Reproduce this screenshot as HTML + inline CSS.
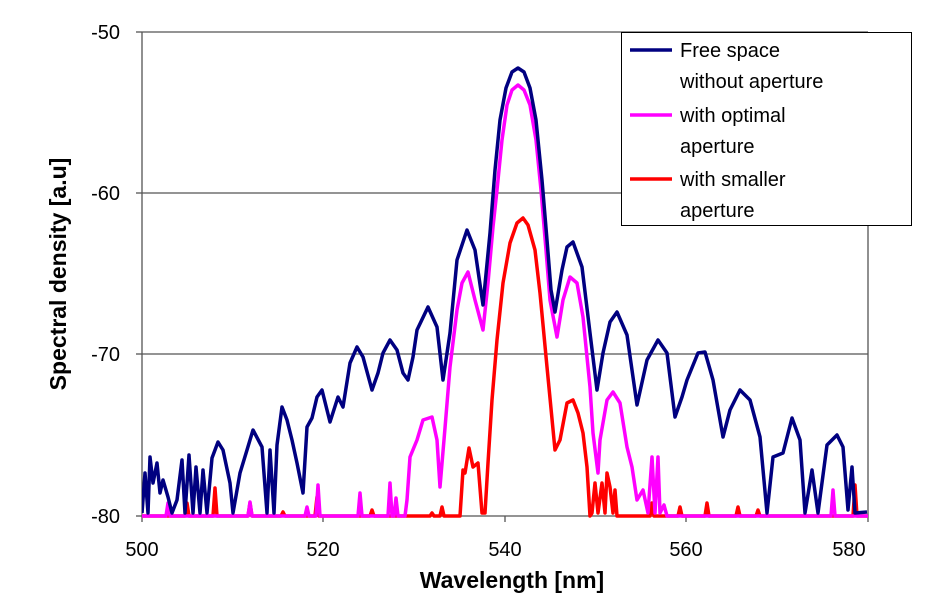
<!DOCTYPE html>
<html><head><meta charset="utf-8"><style>
html,body{margin:0;padding:0;background:#fff;}
svg{display:block;font-family:"Liberation Sans",Arial,sans-serif;}
</style></head><body>
<svg width="948" height="603" viewBox="0 0 948 603" xmlns="http://www.w3.org/2000/svg">
<rect width="948" height="603" fill="#fff"/>
<defs><clipPath id="c"><rect x="142" y="30" width="726" height="488"/></clipPath></defs>
<g stroke="#555" stroke-width="1.3">
<line x1="142" y1="32" x2="868" y2="32"/>
<line x1="142" y1="193" x2="868" y2="193"/>
<line x1="142" y1="354" x2="868" y2="354"/>
<line x1="142" y1="516" x2="868" y2="516"/>
<line x1="142" y1="32" x2="142" y2="516"/>
<line x1="868" y1="32" x2="868" y2="516"/>
<line x1="136" y1="32" x2="142" y2="32"/><line x1="136" y1="193" x2="142" y2="193"/>
<line x1="136" y1="354" x2="142" y2="354"/><line x1="136" y1="516" x2="142" y2="516"/>
<line x1="142" y1="516" x2="142" y2="522"/><line x1="323" y1="516" x2="323" y2="522"/>
<line x1="505" y1="516" x2="505" y2="522"/><line x1="686" y1="516" x2="686" y2="522"/>
<line x1="868" y1="516" x2="868" y2="522"/>
</g>
<g clip-path="url(#c)" fill="none" stroke-width="3.5" stroke-linejoin="round">
<polyline stroke="#ff0000" points="142,516 185,516 187,503 189,516 213,516 215,488 217,516 248,516 250,503 252,516 281,516 283,512 285,516 315,516 317,497 319,516 370,516 372,510 374,516 430,516 432,513 434,516 440,516 442,507 444,516 460,516 463,470 465,473 469,448 473,467 478,463 482,513 485,513 488,463 492,400 497,340 503,283 510,243 517,223 523,218 528,225 535,250 540,293 547,367 555,450 560,440 567,403 573,400 578,413 583,433 587,467 590,516 592,513 595,483 598,513 602,483 605,513 607,473 610,487 613,513 615,490 617,516 650,516 652,503 654,516 678,516 680,507 682,516 705,516 707,503 709,516 736,516 738,507 740,516 756,516 758,510 760,516 853,516 855,485 857,516 868,516"/>
<polyline stroke="#ff00ff" points="142,516 166,516 168,503 170,516 248,516 250,502 252,516 305,516 307,507 309,516 316,516 318,485 320,516 358,516 360,493 362,516 388,516 390,483 392,516 394,516 396,498 398,516 405,516 407,500 410,457 417,440 423,420 432,417 437,440 440,487 445,428 450,367 457,310 462,283 468,272 475,300 483,330 488,283 493,227 497,190 502,140 507,105 512,90 518,85 524,90 530,105 536,140 541,190 546,250 550,300 557,337 563,300 570,277 577,283 583,317 590,387 593,433 598,473 600,440 607,400 613,392 620,403 627,447 632,467 637,500 643,490 648,513 652,457 655,513 658,457 660,513 664,505 667,516 831,516 833,490 835,516 868,516"/>
<polyline stroke="#000080" points="142,513 145,473 148,513 150,457 153,483 157,463 160,493 163,480 168,497 172,513 177,500 182,460 185,513 189,455 193,513 196,467 200,513 203,470 207,513 212,458 218,442 223,450 230,483 233,513 240,473 247,450 253,430 262,447 267,513 270,450 274,513 277,445 282,407 287,420 292,440 297,463 303,493 307,427 312,418 317,397 322,390 330,422 338,397 343,407 350,363 357,347 363,357 372,390 378,373 383,353 390,340 397,350 403,373 408,380 413,357 417,330 428,307 437,327 443,380 450,333 457,260 467,230 475,250 483,305 490,233 495,170 500,120 506,88 512,72 518,68 524,72 530,88 536,120 542,180 547,240 551,290 555,312 562,270 567,247 573,242 582,267 590,333 597,390 603,353 610,322 617,312 627,335 637,405 647,360 658,340 667,353 675,417 682,397 687,380 698,353 705,352 713,380 723,437 730,410 740,390 750,400 760,437 767,513 773,457 783,453 792,418 800,440 805,513 812,470 818,513 827,445 837,435 843,447 848,510 852,467 855,513 867,512"/>
</g>
<g font-size="20" fill="#000" text-anchor="end">
<text x="120" y="39">-50</text><text x="120" y="200">-60</text>
<text x="120" y="361">-70</text><text x="120" y="523">-80</text>
</g>
<g font-size="20" fill="#000" text-anchor="middle">
<text x="142" y="556">500</text><text x="323" y="556">520</text>
<text x="505" y="556">540</text><text x="686" y="556">560</text><text x="849" y="556">580</text>
</g>
<text x="512" y="588" font-size="23" font-weight="bold" text-anchor="middle">Wavelength [nm]</text>
<text transform="translate(66,274) rotate(-90)" font-size="23" font-weight="bold" text-anchor="middle">Spectral density [a.u]</text>
<rect x="621.5" y="32.5" width="290" height="193" fill="#fff" stroke="#000" stroke-width="1"/>
<g stroke-width="3.5">
<line x1="630" y1="50" x2="672" y2="50" stroke="#000080"/>
<line x1="630" y1="115" x2="672" y2="115" stroke="#ff00ff"/>
<line x1="630" y1="179" x2="672" y2="179" stroke="#ff0000"/>
</g>
<g font-size="20" fill="#000">
<text x="680" y="57">Free space</text><text x="680" y="88">without aperture</text>
<text x="680" y="122">with optimal</text><text x="680" y="153">aperture</text>
<text x="680" y="186">with smaller</text><text x="680" y="217">aperture</text>
</g>
</svg>
</body></html>
